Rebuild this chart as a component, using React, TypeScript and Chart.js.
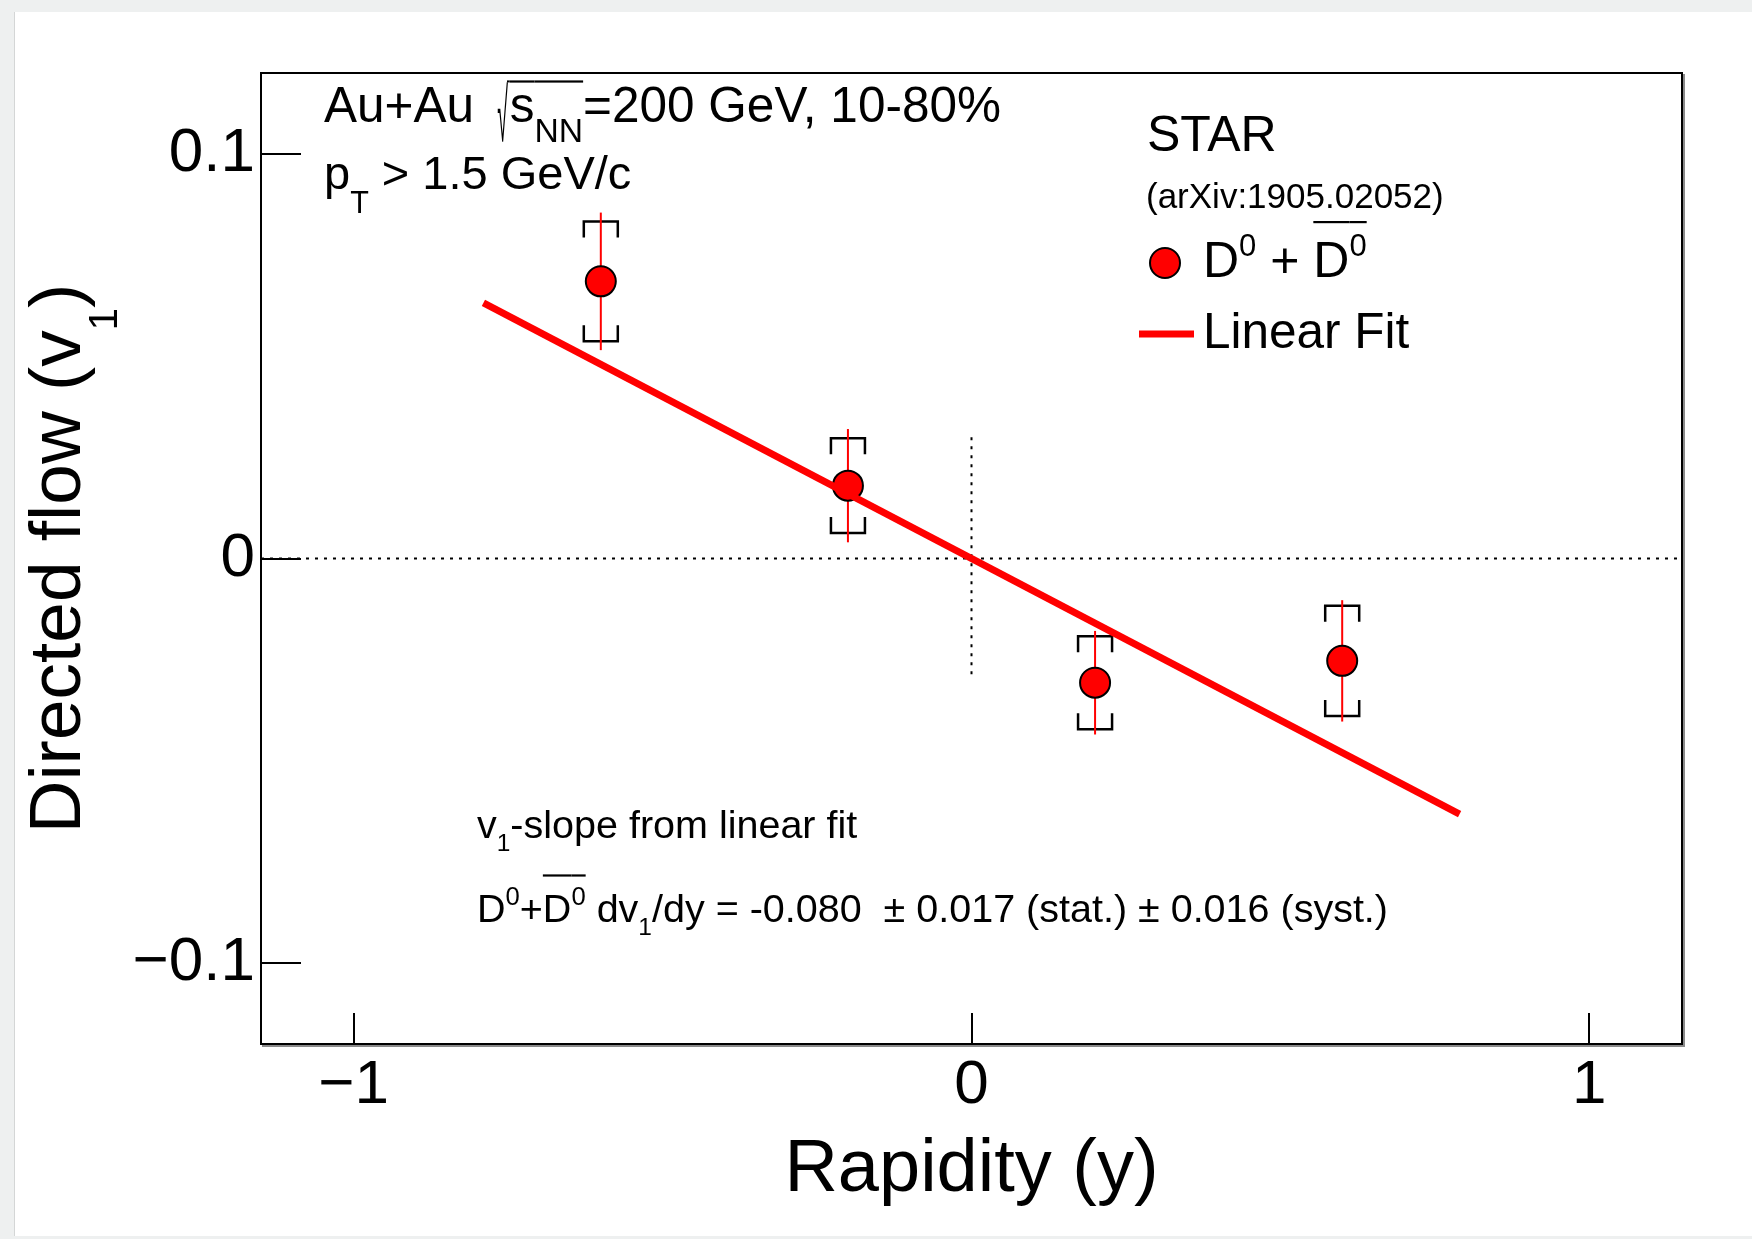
import React, { useEffect, useRef } from "react";
import { Chart, registerables } from "chart.js";

Chart.register(...registerables);

const W = 1752;
const H = 1239;
const FONT = '"Liberation Sans", Arial, Helvetica, sans-serif';

// ---- data ----
const rapidity = [-0.6, -0.2, 0.2, 0.6];
const v1Values = [0.0685, 0.018, -0.0307, -0.0253];
const statErrors = [0.017, 0.014, 0.0128, 0.015];
const sysErrors = [0.0148, 0.0117, 0.0115, 0.0136];
const fitX = [-0.79, 0.79];
const fitV1 = [0.0632, -0.0632];
const zeroLineX = [-1.15, 1.15];
const zeroLineV1 = [0, 0];
const midLineX = [0, 0];
const midLineV1 = [0.03, -0.03];
const xTickValues = [-1, 0, 1];
const yTickValues = [-0.1, 0, 0.1];
const xRange = [-1.15, 1.15];
const yRange = [-0.12, 0.12];

const RED = "#ff0000";

type Seg = { t?: string; sub?: boolean; sup?: boolean; over?: boolean; rad?: boolean };
type RichOpts = {
  subScale?: number;
  subShift?: number;
  supScale?: number;
  supShift?: number;
  overY?: number;
  radAdvance?: number;
  radBottom?: number;
};

function drawRich(
  ctx: CanvasRenderingContext2D,
  segs: Seg[],
  x: number,
  y: number,
  size: number,
  opts: RichOpts,
  draw = true
): number {
  const o = {
    subScale: 0.68,
    subShift: 0.3,
    supScale: 0.65,
    supShift: 0.42,
    overY: 1.13,
    radAdvance: 24,
    radBottom: 0.42,
    ...opts,
  };
  let cx = x;
  ctx.textAlign = "left";
  ctx.textBaseline = "alphabetic";
  for (const s of segs) {
    if (s.rad) {
      if (draw) {
        const top = y - size * o.overY;
        const bottom = y + size * o.radBottom;
        const gx0 = cx + o.radAdvance * 0.45;
        const gx1 = cx + o.radAdvance * 0.92;
        ctx.save();
        ctx.font = `100px ${FONT}`;
        const m = ctx.measureText("\u221A");
        const left = -m.actualBoundingBoxLeft;
        const right = m.actualBoundingBoxRight;
        const gt = -m.actualBoundingBoxAscent;
        const gb = m.actualBoundingBoxDescent;
        const sx = (gx1 - gx0) / (right - left);
        const sy = (bottom - top) / (gb - gt);
        ctx.translate(gx0 - left * sx, top - gt * sy);
        ctx.scale(sx, sy);
        ctx.fillText("\u221A", 0, 0);
        ctx.restore();
        ctx.fillRect(gx1 - 1, top - 1, cx + o.radAdvance - gx1 + 1, 2);
      }
      cx += o.radAdvance;
      continue;
    }
    const t = s.t || "";
    let fs = size;
    let dy = 0;
    if (s.sub) {
      fs = size * o.subScale;
      dy = size * o.subShift;
    } else if (s.sup) {
      fs = size * o.supScale;
      dy = -size * o.supShift;
    }
    ctx.font = `${fs}px ${FONT}`;
    const w = ctx.measureText(t).width;
    if (draw) {
      ctx.fillText(t, cx, y + dy);
      if (s.over) ctx.fillRect(cx, y - size * o.overY - 1, w, 2.2);
    }
    cx += w;
  }
  return cx - x;
}

// ---- text content ----
const line1: Seg[] = [
  { t: "Au+Au " },
  { rad: true },
  { t: "s", over: true },
  { t: "NN", sub: true, over: true },
  { t: "=200 GeV, 10-80%" },
];
const line2: Seg[] = [{ t: "p" }, { t: "T", sub: true }, { t: " > 1.5 GeV/c" }];
const legendD: Seg[] = [
  { t: "D" },
  { t: "0", sup: true },
  { t: " + " },
  { t: "D", over: true },
  { t: "0", sup: true, over: true },
];
const slopeLine1: Seg[] = [{ t: "v" }, { t: "1", sub: true }, { t: "-slope from linear fit" }];
const slopeLine2: Seg[] = [
  { t: "D" },
  { t: "0", sup: true },
  { t: "+" },
  { t: "D", over: true },
  { t: "0", sup: true, over: true },
  { t: " dv" },
  { t: "1", sub: true },
  { t: "/dy = -0.080  \u00B1 0.017 (stat.) \u00B1 0.016 (syst.)" },
];
const yTitle: Seg[] = [{ t: "Directed flow (v" }, { t: "1", sub: true }, { t: ")" }];

const backgroundPlugin = {
  id: "pageBackground",
  beforeDraw(chart: any) {
    const ctx = chart.ctx as CanvasRenderingContext2D;
    ctx.save();
    ctx.fillStyle = "#eef0f0";
    ctx.fillRect(0, 0, W, H);
    ctx.fillStyle = "#ffffff";
    ctx.fillRect(14, 12, W - 14, H - 15);
    ctx.strokeStyle = "#d4d6d6";
    ctx.lineWidth = 1;
    ctx.beginPath();
    ctx.moveTo(14.5, 12);
    ctx.lineTo(14.5, H - 3);
    ctx.stroke();
    ctx.restore();
  },
};

const errorBarPlugin = {
  id: "errorBars",
  beforeDatasetDraw(chart: any, args: any) {
    const ds = chart.data.datasets[args.index];
    if (!ds || ds.label !== "D0") return;
    const ctx = chart.ctx as CanvasRenderingContext2D;
    const xs = chart.scales.x;
    const ys = chart.scales.y;
    ctx.save();
    ctx.strokeStyle = "#000";
    ctx.lineWidth = 2.5;
    ctx.lineCap = "butt";
    ctx.lineJoin = "miter";
    const hw = 17;
    const arm = 16;
    rapidity.forEach((r, i) => {
      const px = xs.getPixelForValue(r);
      const yt = ys.getPixelForValue(v1Values[i] + sysErrors[i]);
      const yb = ys.getPixelForValue(v1Values[i] - sysErrors[i]);
      ctx.beginPath();
      ctx.moveTo(px - hw, yt + arm);
      ctx.lineTo(px - hw, yt);
      ctx.lineTo(px + hw, yt);
      ctx.lineTo(px + hw, yt + arm);
      ctx.moveTo(px - hw, yb - arm);
      ctx.lineTo(px - hw, yb);
      ctx.lineTo(px + hw, yb);
      ctx.lineTo(px + hw, yb - arm);
      ctx.stroke();
    });
    ctx.strokeStyle = RED;
    ctx.lineWidth = 2;
    rapidity.forEach((r, i) => {
      const px = xs.getPixelForValue(r);
      const yt = ys.getPixelForValue(v1Values[i] + statErrors[i]);
      const yb = ys.getPixelForValue(v1Values[i] - statErrors[i]);
      ctx.beginPath();
      ctx.moveTo(px, yt);
      ctx.lineTo(px, yb);
      ctx.stroke();
    });
    ctx.restore();
  },
};

const framePlugin = {
  id: "frameAndTicks",
  afterDatasetsDraw(chart: any) {
    const ctx = chart.ctx as CanvasRenderingContext2D;
    const a = chart.chartArea;
    const xs = chart.scales.x;
    const ys = chart.scales.y;
    ctx.save();
    ctx.strokeStyle = "#8a8a8a";
    ctx.lineWidth = 2;
    ctx.beginPath();
    ctx.moveTo(a.right + 2, a.top + 1);
    ctx.lineTo(a.right + 2, a.bottom + 2);
    ctx.lineTo(a.left + 1, a.bottom + 2);
    ctx.stroke();
    ctx.strokeStyle = "#000";
    ctx.lineWidth = 2;
    ctx.strokeRect(a.left, a.top, a.right - a.left, a.bottom - a.top);
    ctx.beginPath();
    ys.ticks.forEach((t: any) => {
      const py = Math.round(ys.getPixelForValue(t.value));
      ctx.moveTo(a.left, py);
      ctx.lineTo(a.left + 40, py);
    });
    xs.ticks.forEach((t: any) => {
      const px = Math.round(xs.getPixelForValue(t.value));
      ctx.moveTo(px, a.bottom);
      ctx.lineTo(px, a.bottom - 31);
    });
    ctx.stroke();
    ctx.restore();
  },
};

const annotationPlugin = {
  id: "annotations",
  afterDraw(chart: any) {
    const ctx = chart.ctx as CanvasRenderingContext2D;
    const a = chart.chartArea;
    ctx.save();
    ctx.fillStyle = "#000";

    // top-left labels
    drawRich(ctx, line1, 324, 122, 49.5, { subScale: 0.68, subShift: 0.4, overY: 0.82, radAdvance: 22, radBottom: 0.4 });
    drawRich(ctx, line2, 324, 189, 47, { subScale: 0.65, subShift: 0.5 });

    // legend block
    ctx.font = `50px ${FONT}`;
    ctx.fillText("STAR", 1147, 151);
    ctx.font = `35px ${FONT}`;
    ctx.fillText("(arXiv:1905.02052)", 1146, 208);

    const pts = chart.data.datasets.find((d: any) => d.label === "D0");
    ctx.beginPath();
    ctx.arc(1165, 263, pts.pointRadius, 0, Math.PI * 2);
    ctx.fillStyle = pts.pointBackgroundColor;
    ctx.fill();
    ctx.lineWidth = pts.pointBorderWidth;
    ctx.strokeStyle = pts.pointBorderColor;
    ctx.stroke();
    ctx.fillStyle = "#000";
    drawRich(ctx, legendD, 1203, 277, 50, { supScale: 0.62, supShift: 0.42, overY: 1.1 });

    const fit = chart.data.datasets.find((d: any) => d.label === "Linear Fit");
    ctx.strokeStyle = fit.borderColor;
    ctx.lineWidth = fit.borderWidth;
    ctx.beginPath();
    ctx.moveTo(1139, 334);
    ctx.lineTo(1194, 334);
    ctx.stroke();
    ctx.fillStyle = "#000";
    ctx.font = `49.5px ${FONT}`;
    ctx.fillText(fit.label, 1203, 348);

    // slope text
    drawRich(ctx, slopeLine1, 477, 838, 39.5, { subScale: 0.62, subShift: 0.32 });
    drawRich(ctx, slopeLine2, 477, 922, 39.5, { subScale: 0.62, subShift: 0.32, supScale: 0.65, supShift: 0.42, overY: 1.18 });

    // y-axis title (rotated)
    const yo = { subScale: 0.55, subShift: 0.5 };
    const tw = drawRich(ctx, yTitle, 0, 0, 73, yo, false);
    ctx.translate(80, (a.top + a.bottom) / 2);
    ctx.rotate(-Math.PI / 2);
    drawRich(ctx, yTitle, -tw / 2, 0, 73, yo);
    ctx.restore();
  },
};

function fmtY(v: number): string {
  if (Math.abs(v) < 1e-9) return "0";
  return (v < 0 ? "\u2212" : "") + Math.abs(v).toFixed(1);
}
function fmtX(v: number): string {
  if (Math.abs(v) < 1e-9) return "0";
  return (v < 0 ? "\u2212" : "") + String(Math.abs(v));
}

export default function App() {
  const ref = useRef<HTMLCanvasElement>(null);

  useEffect(() => {
    const canvas = ref.current;
    if (!canvas) return;
    const chart = new Chart(canvas, {
      type: "scatter",
      data: {
        datasets: [
          {
            label: "zero",
            data: zeroLineX.map((x, i) => ({ x, y: zeroLineV1[i] })),
            showLine: true,
            borderColor: "#000",
            borderWidth: 2,
            borderDash: [3, 6],
            pointRadius: 0,
            order: 10,
          },
          {
            label: "mid",
            data: midLineX.map((x, i) => ({ x, y: midLineV1[i] })),
            showLine: true,
            borderColor: "#000",
            borderWidth: 2,
            borderDash: [3, 6],
            pointRadius: 0,
            order: 10,
          },
          {
            label: "D0",
            data: rapidity.map((x, i) => ({ x, y: v1Values[i] })),
            showLine: false,
            pointRadius: 15,
            pointBackgroundColor: RED,
            pointBorderColor: "#000",
            pointBorderWidth: 2,
            backgroundColor: RED,
            borderColor: "#000",
            order: 5,
          },
          {
            label: "Linear Fit",
            data: fitX.map((x, i) => ({ x, y: fitV1[i] })),
            showLine: true,
            borderColor: RED,
            borderWidth: 7,
            borderCapStyle: "butt",
            pointRadius: 0,
            order: 1,
          },
        ],
      },
      options: {
        responsive: false,
        animation: false,
        devicePixelRatio: 1,
        events: [],
        layout: { padding: { left: 0, top: 73, right: 70, bottom: 0 } },
        plugins: {
          legend: { display: false },
          tooltip: { enabled: false },
        },
        scales: {
          x: {
            type: "linear",
            min: xRange[0],
            max: xRange[1],
            afterFit: (s: any) => {
              s.height = 195;
            },
            afterBuildTicks: (s: any) => {
              s.ticks = xTickValues.map((value) => ({ value }));
            },
            grid: { display: false, drawTicks: false },
            border: { display: false },
            ticks: {
              autoSkip: false,
              maxRotation: 0,
              padding: 5,
              color: "#000",
              font: { family: FONT, size: 62 },
              callback: (v: any) => fmtX(Number(v)),
            },
            title: {
              display: true,
              text: "Rapidity (y)",
              color: "#000",
              font: { family: FONT, size: 74 },
              padding: { top: 0, bottom: 24 },
            },
          },
          y: {
            type: "linear",
            min: yRange[0],
            max: yRange[1],
            afterFit: (s: any) => {
              s.width = 261;
            },
            afterBuildTicks: (s: any) => {
              s.ticks = yTickValues.map((value) => ({ value }));
            },
            grid: { display: false, drawTicks: false },
            border: { display: false },
            ticks: {
              autoSkip: false,
              padding: 6,
              color: "#000",
              font: { family: FONT, size: 62 },
              callback: (v: any) => fmtY(Number(v)),
            },
            title: { display: false },
          },
        },
      },
      plugins: [backgroundPlugin, errorBarPlugin, framePlugin, annotationPlugin],
    } as any);
    return () => chart.destroy();
  }, []);

  return (
    <div style={{ position: "absolute", left: 0, top: 0, width: W, height: H, background: "#fff" }}>
      <canvas ref={ref} width={W} height={H} style={{ width: W, height: H, display: "block" }} />
    </div>
  );
}
